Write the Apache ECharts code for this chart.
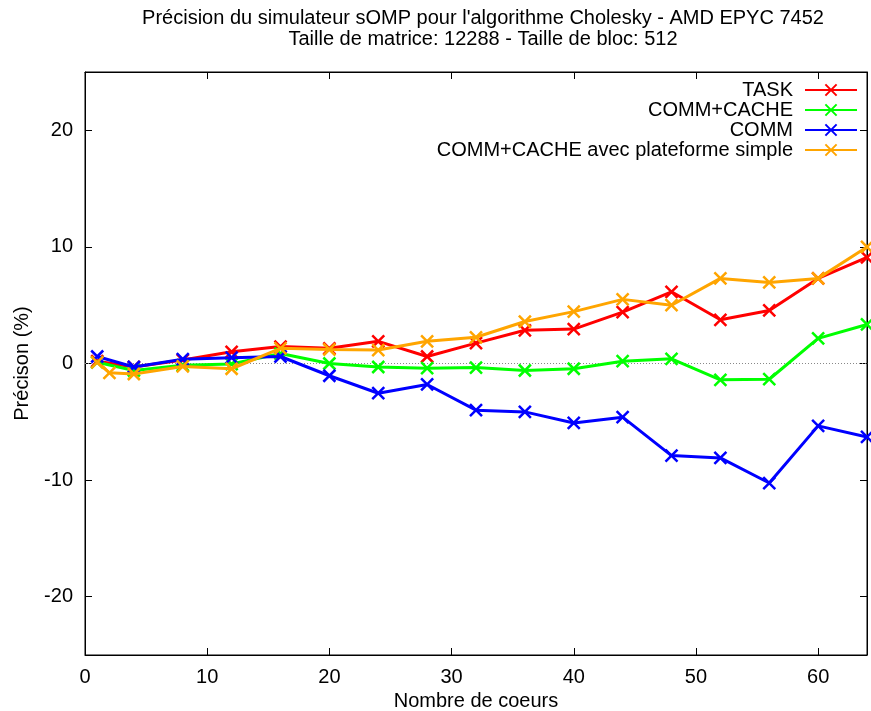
<!DOCTYPE html>
<html>
<head>
<meta charset="utf-8">
<script src="https://cdn.jsdelivr.net/npm/echarts@6/dist/echarts.min.js"></script>
<style>html,body{margin:0;padding:0;background:#fff}#c{width:871px;height:711px}</style>
</head>
<body>
<div id="c"></div>
<script>
// ---- data ----
const titleText = "Précision du simulateur sOMP pour l'algorithme Cholesky - AMD EPYC 7452\nTaille de matrice: 12288 - Taille de bloc: 512";
const xName = "Nombre de coeurs";
const yName = "Précison (%)";
const seriesNames = ["TASK", "COMM+CACHE", "COMM", "COMM+CACHE avec plateforme simple"];
const seriesColors = ["#ff0000", "#00ff00", "#0000ff", "#ffa500"];

const coresTask = [1, 4, 8, 12, 16, 20, 24, 28, 32, 36, 40, 44, 48, 52, 56, 60, 64];
const valTask = [0.2, -0.3, 0.3, 1.0, 1.45, 1.3, 1.9, 0.6, 1.75, 2.85, 2.95, 4.4, 6.15, 3.75, 4.55, 7.3, 9.1];

const coresCommCache = [1, 4, 8, 12, 16, 20, 24, 28, 32, 36, 40, 44, 48, 52, 56, 60, 64];
const valCommCache = [0.1, -0.6, -0.15, -0.05, 0.85, 0.0, -0.3, -0.4, -0.35, -0.6, -0.45, 0.2, 0.4, -1.4, -1.35, 2.15, 3.35];

const coresComm = [1, 4, 8, 12, 16, 20, 24, 28, 32, 36, 40, 44, 48, 52, 56, 60, 64];
const valComm = [0.6, -0.3, 0.37, 0.5, 0.6, -1.05, -2.55, -1.8, -4.0, -4.15, -5.1, -4.6, -7.9, -8.1, -10.25, -5.35, -6.3];

const coresSimple = [1, 2, 4, 8, 12, 16, 20, 24, 28, 32, 36, 40, 44, 48, 52, 56, 60, 64];
const valSimple = [0.1, -0.8, -0.9, -0.25, -0.45, 1.3, 1.2, 1.15, 1.9, 2.25, 3.6, 4.45, 5.5, 5.0, 7.3, 6.95, 7.3, 10.0];

const xTicks = [0, 10, 20, 30, 40, 50, 60];
const yTicks = [-20, -10, 0, 10, 20];
const xMin = 0, xMax = 64, yMin = -25, yMax = 25;

// ---- build ----
const FONT = "'Liberation Sans', Arial, Helvetica, sans-serif";
const crossPath = 'path://M0,0L10,10M10,0L0,10';
function pairs(xs, ys) { return xs.map((x, i) => [x, ys[i]]); }
const allX = [coresTask, coresCommCache, coresComm, coresSimple];
const allY = [valTask, valCommCache, valComm, valSimple];

const series = seriesNames.map((name, i) => ({
  name: name,
  type: 'line',
  xAxisIndex: 0,
  yAxisIndex: 0,
  data: pairs(allX[i], allY[i]),
  symbol: crossPath,
  symbolSize: 12,
  symbolKeepAspect: true,
  lineStyle: { color: seriesColors[i], width: 3 },
  itemStyle: { color: seriesColors[i], borderColor: seriesColors[i], borderWidth: 2.5 },
  emphasis: { disabled: true },
  z: 3 + i,
  markLine: i === 0 ? {
    silent: true,
    symbol: ['none', 'none'],
    label: { show: false },
    lineStyle: { color: '#888', width: 1, type: [1, 2] },
    data: [{ yAxis: 0 }],
    z: 1
  } : undefined
}));

const legends = seriesNames.map((name, i) => ({
  data: [name],
  orient: 'horizontal',
  align: 'right',
  right: 13,
  top: 80 + i * 20,
  padding: 0,
  itemWidth: 52,
  itemHeight: 14,
  selectedMode: false,
  textStyle: { fontSize: 20, fontFamily: FONT, color: '#000', padding: [0, 7, 0, 0] }
}));

const axisCommon = {
  type: 'value',
  splitLine: { show: false },
  axisLine: { show: true, onZero: false, lineStyle: { color: '#000', width: 1 } },
};

const option = {
  animation: false,
  backgroundColor: '#fff',
  title: {
    text: titleText,
    left: 483,
    top: 8,
    padding: 0,
    textAlign: 'center',
    textStyle: { fontSize: 20, fontWeight: 'normal', fontFamily: FONT, color: '#000', lineHeight: 21 }
  },
  legend: legends,
  grid: { left: 85, right: 4, top: 72, bottom: 56, show: true, borderColor: '#000', borderWidth: 1, containLabel: false, outerBoundsMode: 'none' },
  xAxis: [
    Object.assign({}, axisCommon, {
      position: 'bottom', min: xMin, max: xMax,
      name: xName, nameLocation: 'middle', nameGap: 36,
      nameTextStyle: { fontSize: 20, fontFamily: FONT, color: '#000' },
      axisTick: { inside: true, length: 7, customValues: xTicks, lineStyle: { color: '#000' } },
      axisLabel: { customValues: xTicks, margin: 12, fontSize: 20, fontFamily: FONT, color: '#000' }
    }),
    Object.assign({}, axisCommon, {
      position: 'top', min: xMin, max: xMax,
      axisTick: { inside: true, length: 7, customValues: xTicks, lineStyle: { color: '#000' } },
      axisLabel: { show: false }
    })
  ],
  yAxis: [
    Object.assign({}, axisCommon, {
      position: 'left', min: yMin, max: yMax,
      name: yName, nameLocation: 'middle', nameGap: 53, nameRotate: 90,
      nameTextStyle: { fontSize: 20, fontFamily: FONT, color: '#000' },
      axisTick: { inside: true, length: 7, customValues: yTicks, lineStyle: { color: '#000' } },
      axisLabel: { customValues: yTicks, margin: 12, fontSize: 20, fontFamily: FONT, color: '#000' }
    }),
    Object.assign({}, axisCommon, {
      position: 'right', min: yMin, max: yMax,
      axisTick: { inside: true, length: 7, customValues: yTicks, lineStyle: { color: '#000' } },
      axisLabel: { show: false }
    })
  ],
  series: series
};

const chart = echarts.init(document.getElementById('c'), null, { renderer: 'canvas' });
chart.setOption(option);
</script>
</body>
</html>
